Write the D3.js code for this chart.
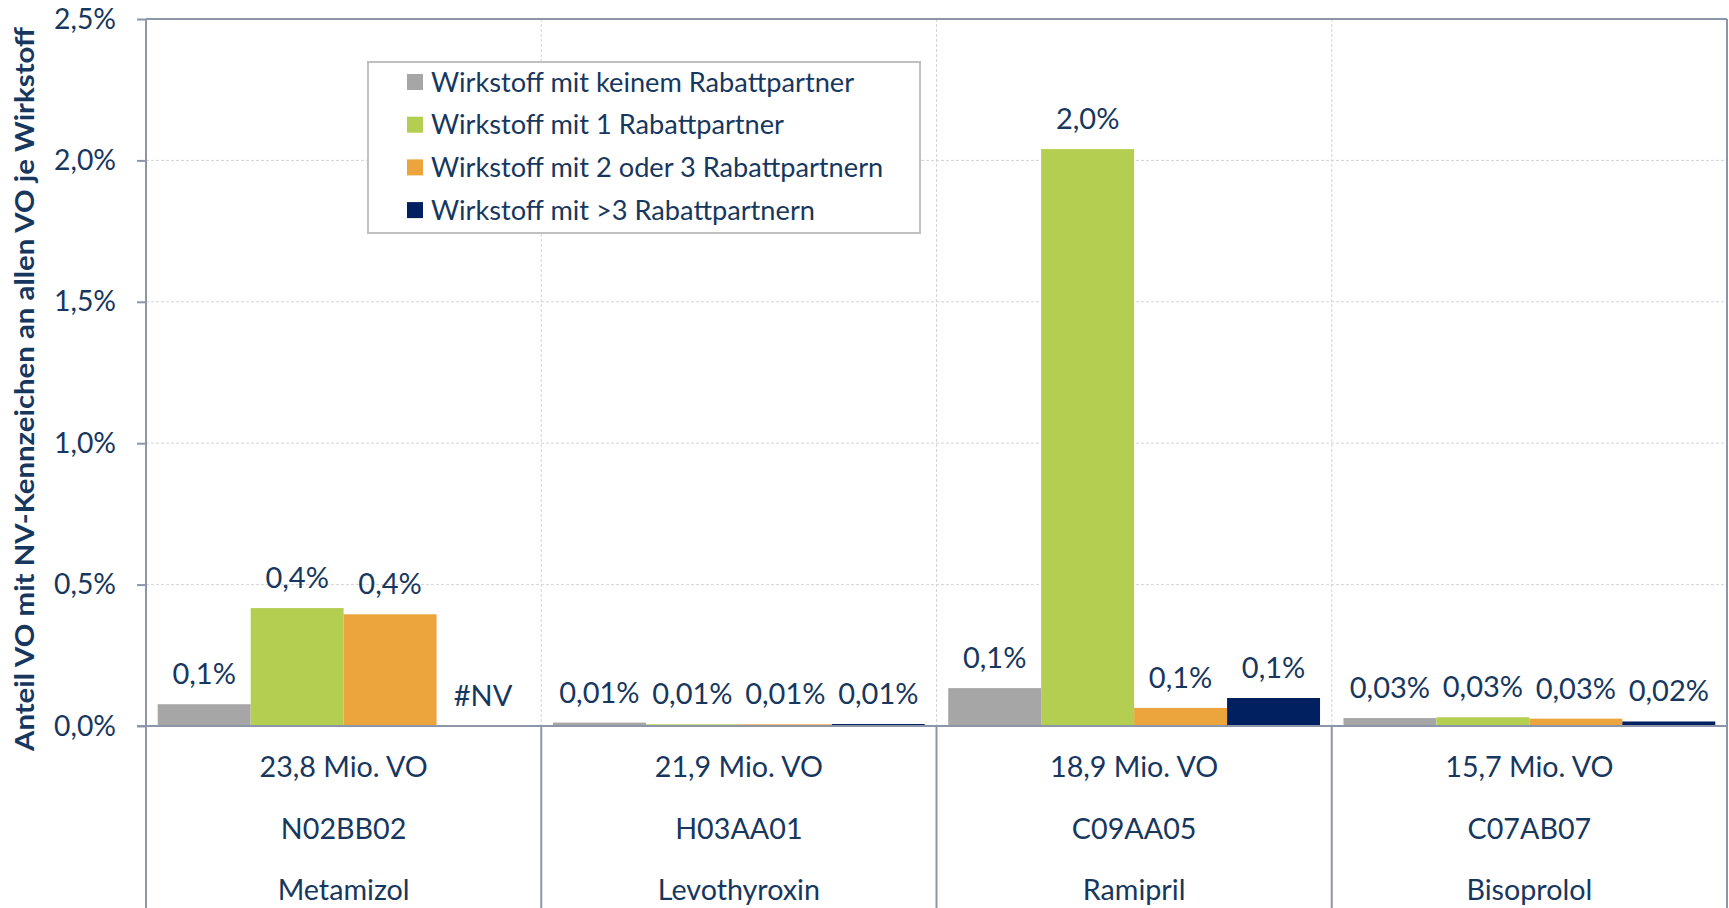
<!DOCTYPE html>
<html>
<head>
<meta charset="utf-8">
<script src="https://cdn.jsdelivr.net/npm/d3@7"></script>
<style>
  html, body { margin: 0; padding: 0; background: #ffffff; }
  svg { display: block; }
  text { font-family: Lato, "Open Sans", sans-serif; fill: #17375e; }
</style>
</head>
<body>
<svg id="chart" width="1729" height="908"></svg>
<script>
// Active substances (three-line category labels)
const substances = ["Metamizol", "Levothyroxin", "Ramipril", "Bisoprolol"];
const atcCodes = ["N02BB02", "H03AA01", "C09AA05", "C07AB07"];
const prescriptions = ["23,8 Mio. VO", "21,9 Mio. VO", "18,9 Mio. VO", "15,7 Mio. VO"];
// decimals used in the value labels of each substance
const labelDecimals = [1, 2, 1, 2];

const seriesNames = [
  "Wirkstoff mit keinem Rabattpartner",
  "Wirkstoff mit 1 Rabattpartner",
  "Wirkstoff mit 2 oder 3 Rabattpartnern",
  "Wirkstoff mit >3 Rabattpartnern"
];
const seriesColors = ["#a6a6a6", "#b3ce51", "#eba53c", "#002060"];

// share (%) of prescriptions with NV flag, one array per series; null = #NV
const noPartner    = [0.077, 0.012, 0.134, 0.028];
const onePartner   = [0.417, 0.006, 2.04, 0.031];
const twoOrThree   = [0.395, 0.006, 0.064, 0.026];
const moreThanThree = [null, 0.007, 0.099, 0.016];
const seriesValues = [noPartner, onePartner, twoOrThree, moreThanThree];

const yTicks = [0, 0.5, 1.0, 1.5, 2.0, 2.5];
const yTitle = "Anteil VO mit NV-Kennzeichen an allen VO je Wirkstoff";

const svg = d3.select("#chart");
const W = 1729, H = 908;
const plot = { left: 146, right: 1727, top: 19, bottom: 726 };

const x0 = d3.scaleBand().domain(substances).range([plot.left, plot.right]).paddingInner(0).paddingOuter(0);
const x1 = d3.scaleBand().domain(d3.range(seriesNames.length)).range([0, x0.bandwidth()]).paddingInner(0).paddingOuter(0.126);
const y = d3.scaleLinear().domain([0, 2.5]).range([plot.bottom, plot.top]);

const locale = d3.formatLocale({ decimal: ",", thousands: ".", grouping: [3], currency: ["", "€"] });
const pctFmt = d => locale.format("." + d + "f");

const axisColor = "#8d95a9";

// horizontal gridlines
svg.append("g").selectAll("line").data(yTicks.filter(t => t > 0 && t < 2.5)).join("line")
  .attr("x1", plot.left).attr("x2", plot.right)
  .attr("y1", d => y(d)).attr("y2", d => y(d))
  .attr("stroke", "#d4d4d4").attr("stroke-width", 1).attr("stroke-dasharray", "3,2");

// vertical dotted separators between substances inside the plot
const boundaries = substances.map(s => x0(s)).concat([plot.right]);
svg.append("g").selectAll("line").data(boundaries.slice(1, -1)).join("line")
  .attr("x1", d => d).attr("x2", d => d)
  .attr("y1", plot.top).attr("y2", plot.bottom)
  .attr("stroke", "#d4d4d4").attr("stroke-width", 1).attr("stroke-dasharray", "3,2");

// bars
const groups = svg.append("g").selectAll("g").data(substances).join("g")
  .attr("transform", d => `translate(${x0(d)},0)`);

groups.selectAll("rect")
  .data((d, i) => seriesValues.map((vals, s) => ({ s, v: vals[i] })))
  .join("rect")
  .filter(d => d.v != null)
  .attr("x", d => x1(d.s))
  .attr("width", x1.bandwidth())
  .attr("y", d => y(d.v))
  .attr("height", d => y(0) - y(d.v))
  .attr("fill", d => seriesColors[d.s]);

// value labels
groups.selectAll("text.val")
  .data((d, i) => seriesValues.map((vals, s) => ({ s, v: vals[i], dec: labelDecimals[i] })))
  .join("text")
  .attr("class", "val")
  .attr("x", d => x1(d.s) + x1.bandwidth() / 2)
  .attr("y", d => (d.v == null ? y(0) : y(d.v)) - 20)
  .attr("text-anchor", "middle")
  .attr("font-size", 29)
  .text(d => d.v == null ? "#NV" : pctFmt(d.dec)(d.v) + "%");

// plot frame: top and right borders
svg.append("line").attr("x1", plot.left).attr("x2", plot.right).attr("y1", plot.top).attr("y2", plot.top)
  .attr("stroke", axisColor).attr("stroke-width", 2);
svg.append("line").attr("x1", plot.right).attr("x2", plot.right).attr("y1", plot.top).attr("y2", H)
  .attr("stroke", axisColor).attr("stroke-width", 2);

// category separators below the axis
svg.append("g").selectAll("line").data(boundaries.slice(0, -1)).join("line")
  .attr("x1", d => d).attr("x2", d => d)
  .attr("y1", d => d === plot.left ? plot.top : plot.bottom).attr("y2", H)
  .attr("stroke", axisColor).attr("stroke-width", 2);

// x axis baseline
svg.append("line").attr("x1", plot.left - 9).attr("x2", plot.right).attr("y1", y(0)).attr("y2", y(0))
  .attr("stroke", axisColor).attr("stroke-width", 2);

// y axis
const yAxis = d3.axisLeft(y).tickValues(yTicks).tickSize(9).tickPadding(21)
  .tickFormat(d => pctFmt(1)(d) + "%");
const ya = svg.append("g").attr("transform", `translate(${plot.left},0)`).call(yAxis);
ya.select(".domain").remove();
ya.selectAll(".tick line").attr("stroke", axisColor).attr("stroke-width", 2);
ya.selectAll(".tick text").attr("font-size", 28.3).attr("fill", "#17375e")
  .attr("font-family", "Lato, sans-serif");

// category labels (three lines)
const catLines = [prescriptions, atcCodes, substances];
const catBaselines = [777, 839, 900];
catLines.forEach((arr, li) => {
  svg.append("g").selectAll("text").data(substances).join("text")
    .attr("x", d => x0(d) + x0.bandwidth() / 2)
    .attr("y", catBaselines[li])
    .attr("text-anchor", "middle")
    .attr("font-size", 28.7)
    .text((d, i) => arr[i]);
});

// y axis title
svg.append("text")
  .attr("transform", "translate(34,389) rotate(-90)")
  .attr("text-anchor", "middle")
  .attr("font-size", 27)
  .attr("font-weight", "bold")
  .attr("textLength", 724)
  .attr("lengthAdjust", "spacingAndGlyphs")
  .text(yTitle);

// legend
const legend = svg.append("g");
legend.append("rect").attr("x", 368).attr("y", 62).attr("width", 552).attr("height", 171)
  .attr("fill", "#ffffff").attr("stroke", "#c0c0c0").attr("stroke-width", 2);
const items = legend.selectAll("g").data(seriesNames).join("g")
  .attr("transform", (d, i) => `translate(407,${82 + i * 42.7})`);
items.append("rect").attr("x", 0).attr("y", -8).attr("width", 16).attr("height", 16)
  .attr("fill", (d, i) => seriesColors[i]);
items.append("text").attr("x", 24).attr("y", 0).attr("dy", "0.35em")
  .attr("font-size", 27.2).text(d => d);
</script>
</body>
</html>
